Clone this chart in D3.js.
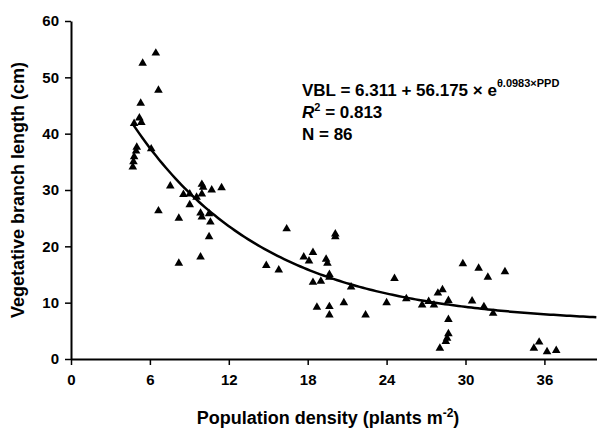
<!DOCTYPE html>
<html>
<head>
<meta charset="utf-8">
<script src="https://cdn.jsdelivr.net/npm/d3@7"></script>
<style>
  body { margin: 0; background: #fff; }
  text { font-family: Arial, "Liberation Sans", sans-serif; font-weight: bold; }
</style>
</head>
<body>
<svg id="chart" width="597" height="429"></svg>
<script>
// Population density (plants m-2) of each sample
var density = [
  4.7, 4.75, 4.8, 4.95, 5.0, 6.1, 4.8, 5.2, 5.35, 5.3, 5.45, 6.45, 6.65,
  7.55, 6.65, 8.2, 8.2, 8.55, 9.03, 9.03, 9.55, 9.95, 9.95, 10.05, 10.7, 11.45,
  9.85, 9.95, 10.5, 10.6, 10.5, 9.85,
  14.85, 15.8, 16.4, 17.7, 18.1, 18.4, 19.4, 19.5, 20.1, 20.1, 19.65, 19.65,
  18.4, 19.0, 21.3, 18.7, 19.65, 19.65, 20.75, 22.4,
  24.0, 24.6, 25.5, 26.7, 27.2, 27.6, 27.9, 28.25, 28.7, 28.7, 28.7, 28.6,
  28.5, 28.05, 29.8, 31.0, 31.7, 33.0, 30.5, 31.4, 32.1, 35.2, 35.6, 36.2, 36.9
];
// Vegetative branch length (cm) of each sample
var branchLength = [
  34.1, 35.0, 35.9, 36.9, 37.6, 37.3, 41.8, 42.8, 42.0, 45.4, 52.5, 54.3, 47.7,
  30.7, 26.3, 25.0, 17.0, 29.2, 29.3, 27.4, 28.7, 29.3, 31.0, 30.5, 30.0, 30.4,
  25.9, 25.2, 25.8, 24.3, 21.7, 18.1,
  16.6, 15.8, 23.1, 18.1, 17.4, 18.9, 17.7, 17.0, 22.2, 21.7, 15.0, 14.5,
  13.6, 13.8, 12.8, 9.2, 9.3, 7.8, 10.0, 7.8,
  10.0, 14.3, 10.7, 9.6, 10.2, 9.6, 11.7, 12.3, 10.4, 7.0, 4.5, 3.7,
  3.1, 1.9, 16.9, 16.1, 14.5, 15.5, 10.3, 9.3, 8.1, 1.9, 3.0, 1.3, 1.5
];
var xTicks = [0, 6, 12, 18, 24, 30, 36];
var yTicks = [0, 10, 20, 30, 40, 50, 60];
// fitted model: VBL = a + b * exp(-k * PPD)
var fitA = 6.311, fitB = 56.175, fitK = 0.0983;

var svg = d3.select('#chart');
var margin = { top: 21, right: 0, bottom: 70, left: 71 };
var width = +svg.attr('width') - margin.left - margin.right;
var height = +svg.attr('height') - margin.top - margin.bottom;

var x = d3.scaleLinear().domain([0, 40]).range([0, width]);
var y = d3.scaleLinear().domain([0, 60]).range([height, 0]);

var g = svg.append('g').attr('transform', 'translate(' + margin.left + ',' + margin.top + ')');

// Axes
var xAxis = g.append('g')
  .attr('transform', 'translate(0,' + height + ')')
  .call(d3.axisBottom(x).tickValues(xTicks).tickSize(6).tickSizeOuter(0).tickPadding(9));
var yAxis = g.append('g')
  .call(d3.axisLeft(y).tickValues(yTicks).tickSize(6).tickSizeOuter(0).tickPadding(6));

[xAxis, yAxis].forEach(function(ax) {
  ax.select('.domain').attr('stroke', '#000').attr('stroke-width', 2);
  ax.selectAll('.tick line').attr('stroke', '#000').attr('stroke-width', 1.5);
  ax.selectAll('.tick text').attr('fill', '#000').style('font-size', '15px')
    .style('font-family', 'Arial, "Liberation Sans", sans-serif').style('font-weight', 'bold');
});

// Fitted curve
var curveX = d3.range(4.7, 40.01, 0.25);
var line = d3.line()
  .x(function(d) { return x(d); })
  .y(function(d) { return y(fitA + fitB * Math.exp(-fitK * d)); });

g.append('path')
  .datum(curveX)
  .attr('d', line)
  .attr('fill', 'none')
  .attr('stroke', '#000')
  .attr('stroke-width', 2.5);

// Points
var tri = d3.symbol().type(d3.symbolTriangle).size(32);
g.selectAll('.pt')
  .data(density)
  .enter()
  .append('path')
  .attr('class', 'pt')
  .attr('d', tri)
  .attr('fill', '#000')
  .attr('transform', function(d, i) {
    return 'translate(' + x(d) + ',' + y(branchLength[i]) + ')';
  });

// Axis titles
svg.append('text')
  .attr('transform', 'translate(24,' + (margin.top + height / 2) + ') rotate(-90)')
  .attr('text-anchor', 'middle')
  .style('font-size', '18px')
  .text('Vegetative branch length (cm)');

var xt = svg.append('text')
  .attr('x', margin.left + width / 2 - 6)
  .attr('y', 424)
  .attr('text-anchor', 'middle')
  .style('font-size', '18px');
xt.append('tspan').text('Population density (plants m');
xt.append('tspan').attr('dy', -7).style('font-size', '12px').text('-2');
xt.append('tspan').attr('dy', 7).text(')');

// Equation
var eq = svg.append('text').attr('x', 302).attr('y', 96).style('font-size', '17px');
eq.append('tspan').text('VBL = 6.311 + 56.175 × e');
eq.append('tspan').attr('dy', -9).style('font-size', '11px').text('θ.0983×PPD');

var r2 = svg.append('text').attr('x', 302).attr('y', 118).style('font-size', '17px');
r2.append('tspan').style('font-style', 'italic').text('R');
r2.append('tspan').attr('dy', -7).style('font-size', '11px').text('2');
r2.append('tspan').attr('dy', 7).text(' = 0.813');

svg.append('text').attr('x', 302).attr('y', 140).style('font-size', '17px').text('N = 86');
</script>
</body>
</html>
